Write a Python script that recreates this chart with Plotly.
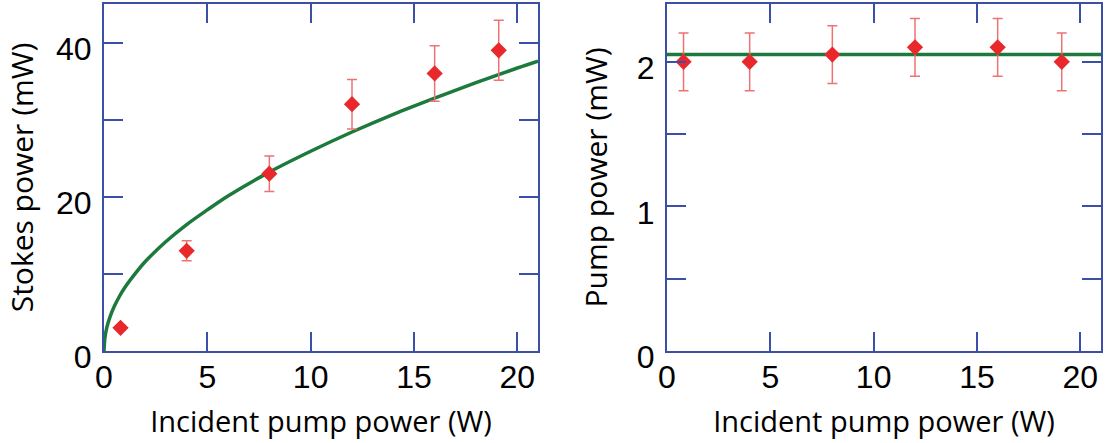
import plotly.graph_objects as go

# ---- data ----
pump_w = [0.8, 4, 8, 12, 16, 19.1]
stokes_mw = [3.0, 13.0, 23.0, 32.0, 36.0, 39.0]
stokes_err = [0.3, 1.3, 2.3, 3.2, 3.6, 3.9]

fit_x = [0, 0.05, 0.15, 0.3, 0.5, 0.75, 1, 1.5, 2, 3, 4, 5, 6, 8, 10, 12, 14, 16, 18, 20, 21]
fit_y = [0, 1.8, 3.2, 4.5, 5.8, 7.1, 8.2, 10.0, 11.6, 14.2, 16.4, 18.3, 20.1, 23.2, 25.9, 28.4, 30.7, 32.8, 34.8, 36.7, 37.6]

pump_out_mw = [2.0, 2.0, 2.05, 2.1, 2.1, 2.0]
pump_out_err = [0.2, 0.2, 0.2, 0.2, 0.2, 0.2]
level_x = [0, 21]
level_y = [2.05, 2.05]

x_ticks = [0, 5, 10, 15, 20]
left_yticks = [0, 10, 20, 30, 40]
left_ytext = ["0", "", "20", "", "40"]
right_yticks = [0, 0.5, 1, 1.5, 2]
right_ytext = ["0", "", "1", "", "2"]

RED = "#e8282b"
ERR = "#ee7272"
GREEN = "#1b7a3c"
BLUE = "#3b4fa8"

fig = go.Figure()

fig.add_trace(go.Scatter(x=fit_x, y=fit_y, mode="lines", line=dict(color=GREEN, width=3.5, shape="spline"),
                         xaxis="x", yaxis="y", showlegend=False))
fig.add_trace(go.Scatter(x=pump_w, y=stokes_mw, mode="markers",
                         marker=dict(symbol="diamond", size=12.5, color=RED),
                         error_y=dict(type="data", array=stokes_err, color=ERR, thickness=1.5, width=5),
                         xaxis="x", yaxis="y", showlegend=False))

fig.add_trace(go.Scatter(x=level_x, y=level_y, mode="lines", line=dict(color=GREEN, width=3.5),
                         xaxis="x2", yaxis="y2", showlegend=False))
fig.add_trace(go.Scatter(x=pump_w, y=pump_out_mw, mode="markers",
                         marker=dict(symbol="diamond", size=12.5, color=RED),
                         error_y=dict(type="data", array=pump_out_err, color=ERR, thickness=1.5, width=5),
                         xaxis="x2", yaxis="y2", showlegend=False))

tickfont = dict(family="Liberation Sans, Arial, sans-serif", size=32, color="black")
xtitlefont = dict(family="Open Sans, sans-serif", size=29, color="black")
ytitlefont = dict(family="Open Sans, sans-serif", size=30, color="black")

axis_common = dict(showline=True, linecolor=BLUE, linewidth=2, mirror="ticks",
                   ticks="inside", ticklen=19, tickwidth=2, tickcolor=BLUE,
                   showgrid=False, zeroline=False, tickfont=tickfont)

fig.update_layout(
    width=1105, height=443,
    margin=dict(l=104, r=4, t=2, b=92),
    paper_bgcolor="white", plot_bgcolor="white",
    xaxis=dict(domain=[0, 0.4353], range=[0, 21], tickvals=x_ticks, anchor="y", ticklabelstandoff=-3,
               title=dict(text="Incident pump power (W)", font=xtitlefont, standoff=17), **axis_common),
    yaxis=dict(domain=[0, 1], range=[0, 45], tickvals=left_yticks, ticktext=left_ytext, anchor="x",
               ticklabelshift=6, ticklabelstandoff=4,
               title=dict(text="Stokes power (mW)", font=ytitlefont, standoff=14),
               **axis_common),
    xaxis2=dict(domain=[0.5647, 1], range=[0, 21], tickvals=x_ticks, anchor="y2", ticklabelstandoff=-3,
                title=dict(text="Incident pump power (W)", font=xtitlefont, standoff=17), **axis_common),
    yaxis2=dict(domain=[0, 1], range=[0, 2.4], tickvals=right_yticks, ticktext=right_ytext, anchor="x2",
                ticklabelshift=6, ticklabelstandoff=4,
                title=dict(text="Pump power (mW)", font=ytitlefont, standoff=20),
                **axis_common),
)

fig.write_html("out.html", config={"displayModeBar": False},
               post_script="document.body.style.margin='0';")
